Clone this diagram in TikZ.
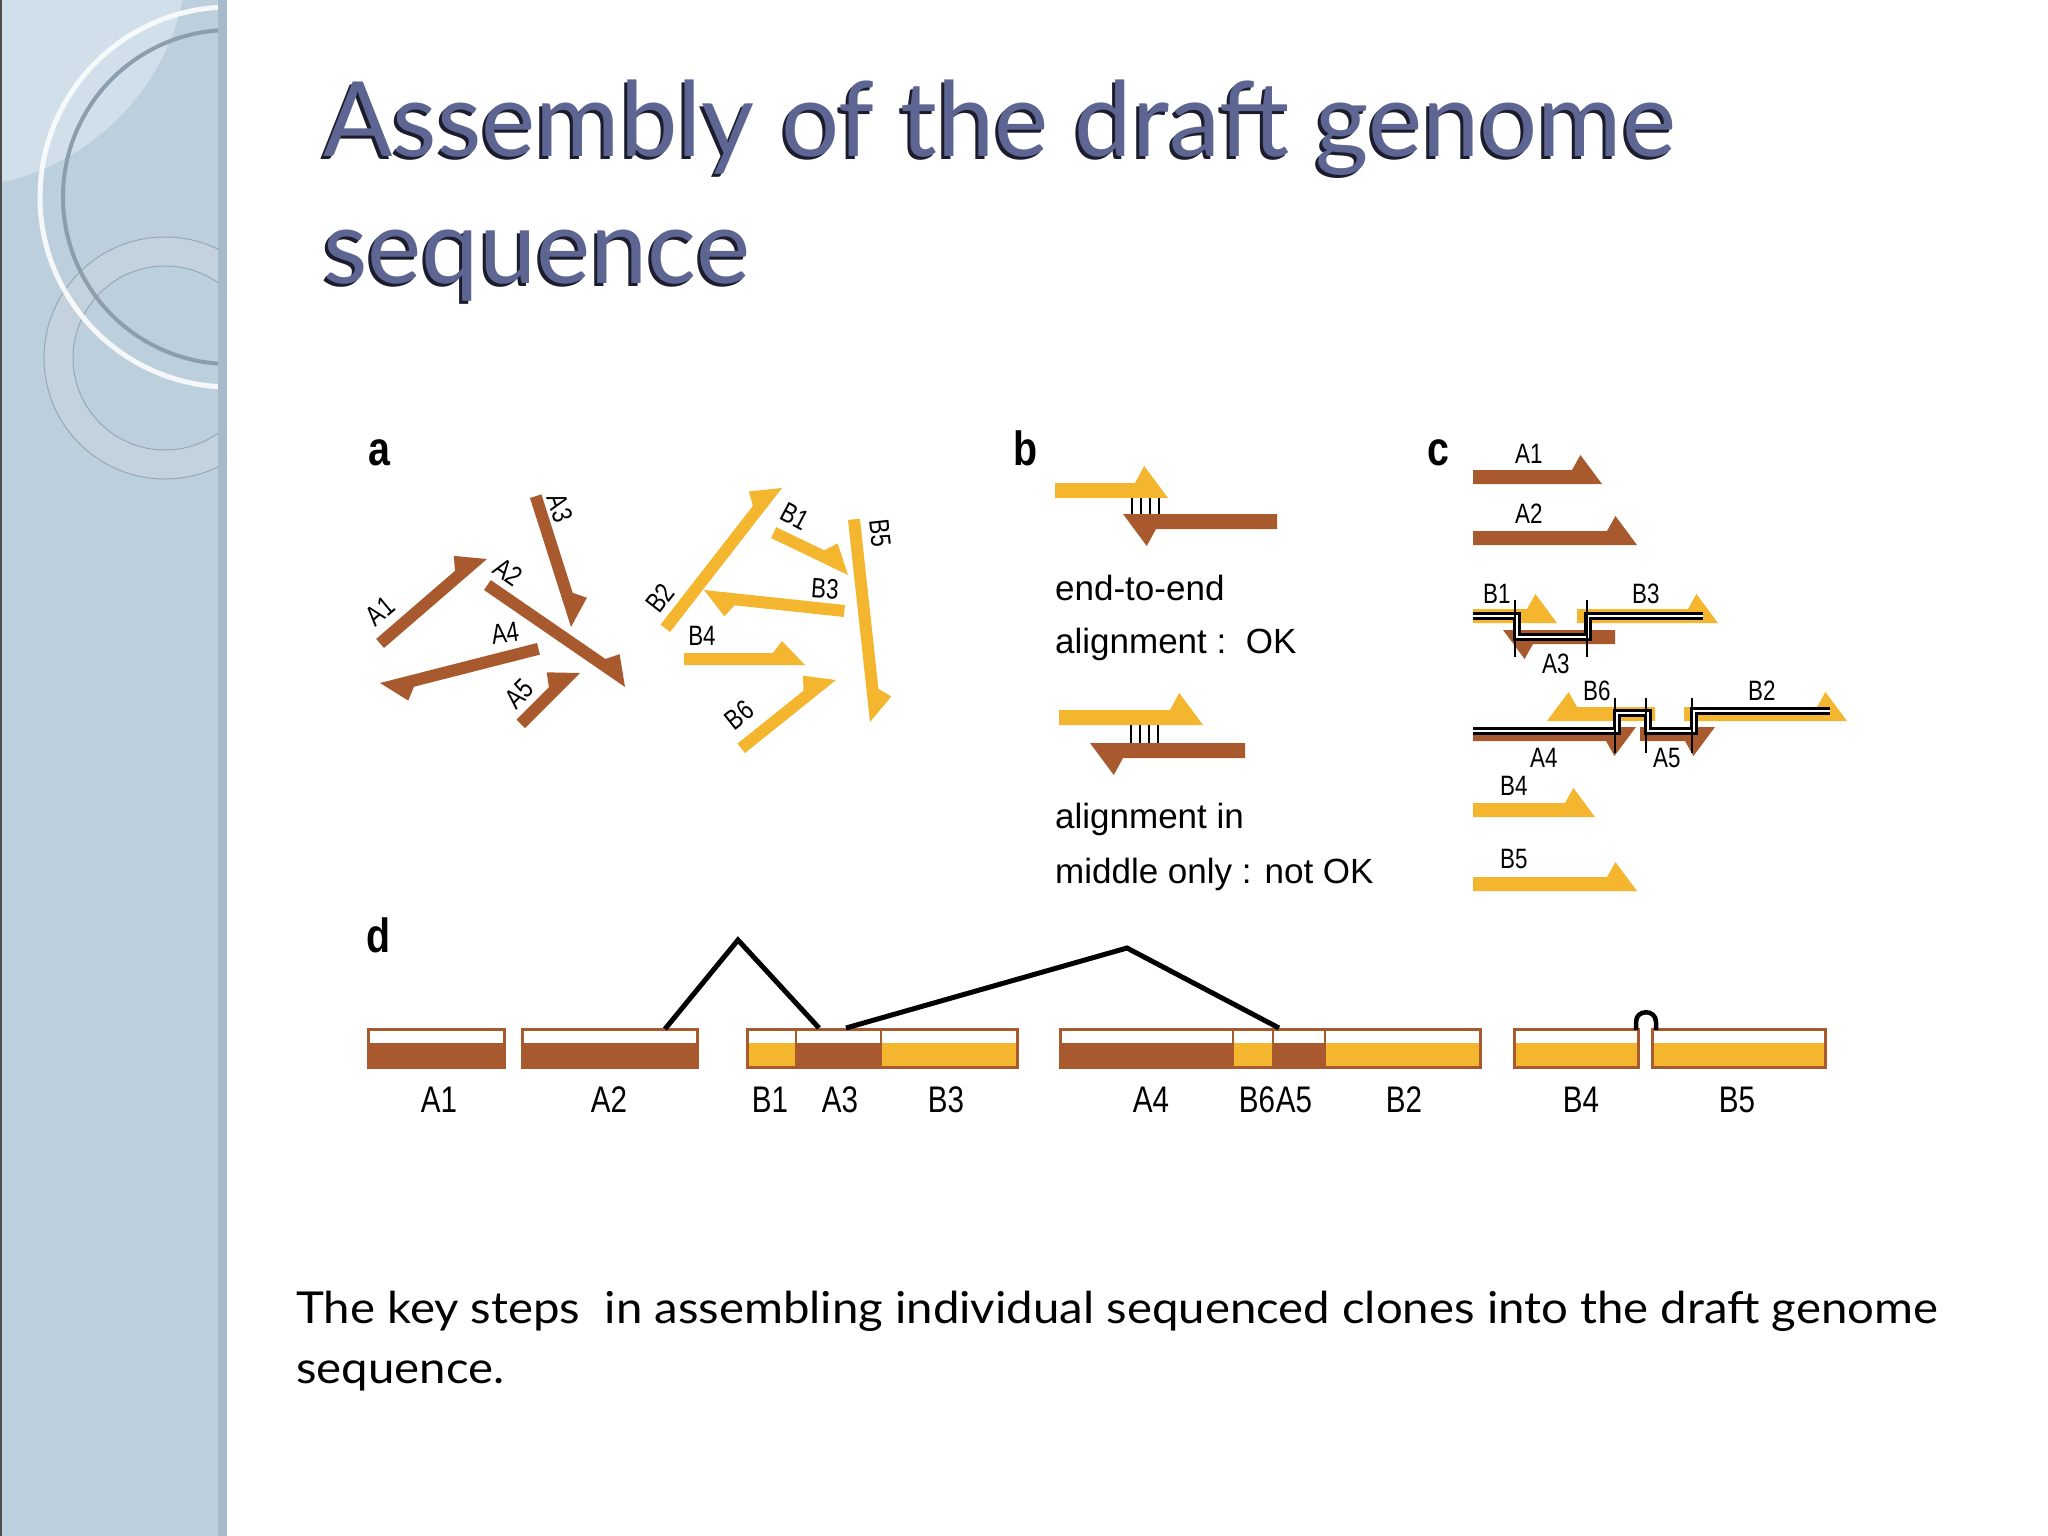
\documentclass[tikz,border=0pt]{standalone}
\usepackage{fontspec}
\usepackage{graphicx}
\setmainfont{Liberation Sans}
\newfontfamily\titlefont{Lato}
\newfontfamily\labfont[FakeStretch=0.8]{Liberation Sans}
\newfontfamily\panfont[FakeStretch=0.82]{Liberation Sans Bold}
\newfontfamily\txtfont{Liberation Sans}
\definecolor{brownc}{RGB}{168,89,46}
\definecolor{goldc}{RGB}{243,182,46}
\definecolor{titlec}{RGB}{93,101,146}
\definecolor{shadowc}{RGB}{28,28,44}
\definecolor{sideb}{RGB}{188,207,221}
\definecolor{sidel}{RGB}{208,223,233}
\definecolor{sides}{RGB}{166,186,201}
\definecolor{ringd}{RGB}{140,158,172}
\definecolor{ringf}{RGB}{200,212,222}
\definecolor{ringe}{RGB}{150,168,182}
\newsavebox\tbox
\newsavebox\cbox
\newlength\tlen
\newlength\clen
\newcommand\hhl{32}
\newcommand\hhb{12}
\newcommand\titletxt{Assembly of the draft genome}
\newcommand\captxt{The key steps\ \ in assembling individual sequenced clones into the draft genome}
% harpoon: color, x1,y1 (tail on tip edge), x2,y2 (tip), side (1=left,-1=right), thickness
\newcommand\harp[7]{%
 \pgfmathsetmacro\hdx{#4-(#2)}%
 \pgfmathsetmacro\hdy{#5-(#3)}%
 \pgfmathsetmacro\hL{veclen(\hdx,\hdy)}%
 \pgfmathsetmacro\hA{atan2(-\hdy,\hdx)}%
 \pgfmathsetmacro\hm{-(#6)}%
 \fill[#1,shift={(#2,#3)},rotate=\hA] (0,0) -- (\hL,0) -- ({\hL-0.72*\hhl},{\hm*(#7+\hhb)}) -- ({\hL-\hhl},{\hm*#7}) -- (0,{\hm*#7}) -- cycle;}
\tikzset{
 lab/.style={inner sep=0pt, font=\labfont\fontsize{28}{30}\selectfont},
 clab/.style={inner sep=0pt, anchor=base west, font=\labfont\fontsize{28}{30}\selectfont},
 dlab/.style={inner sep=0pt, anchor=base, font=\labfont\fontsize{37}{40}\selectfont},
 plet/.style={inner sep=0pt, anchor=base west, font=\panfont\fontsize{48}{50}\selectfont},
 btxt/.style={inner sep=0pt, anchor=base west, font=\txtfont\fontsize{35}{40}\selectfont},
 tickl/.style={black, line width=2pt},
 cons/.style={line width=2.8pt, double=white, double distance=2.6pt, line join=miter},
 dline/.style={black, line width=5pt, line join=miter},
 dbox/.style={draw=brownc, line width=3pt},
 divl/.style={brownc, line width=2pt}
}
\begin{document}
\sbox\tbox{\titlefont\fontsize{104}{120}\selectfont \titletxt}%
\setlength\tlen{\wd\tbox}%
\pgfmathsetmacro\tsx{1353/\tlen}%
\sbox\cbox{\titlefont\fontsize{44}{50}\selectfont \captxt}%
\setlength\clen{\wd\cbox}%
\pgfmathsetmacro\csx{1642/\clen}%
\begin{tikzpicture}[x=1pt,y=-1pt]
\useasboundingbox (0,0) rectangle (2048,1536);
\fill[white] (0,0) rectangle (2048,1536);
% ---------- sidebar ----------
\begin{scope}
\clip (0,0) rectangle (227,1536);
\fill[sideb] (0,0) rectangle (227,1536);
\fill[sidel] (-50,-50) circle[radius=238];
\fill[ringf, opacity=.6, even odd rule] (165,358) circle[radius=121] (165,358) circle[radius=92];
\draw[ringe, line width=1pt] (165,358) circle[radius=121] (165,358) circle[radius=92];
\draw[white, opacity=.85, line width=5pt] (230,197) circle[radius=190];
\draw[ringd, line width=4pt] (230,197) circle[radius=167];
\fill[sides] (218,0) rectangle (227,1536);
\end{scope}
\draw[black!70, line width=2pt] (1,0) -- (1,1536);
% ---------- title ----------
\node[anchor=base west, inner sep=0pt, text=shadowc] (tsh1) at (320,160) {\scalebox{\tsx}[1]{\titlefont\fontsize{104}{120}\selectfont \titletxt}};
\node[anchor=base west, inner sep=0pt, text=titlec] (title1) at (323,157) {\scalebox{\tsx}[1]{\titlefont\fontsize{104}{120}\selectfont \titletxt}};
\node[anchor=base west, inner sep=0pt, text=shadowc] (tsh2) at (320,286) {\scalebox{\tsx}[1]{\titlefont\fontsize{104}{120}\selectfont sequence}};
\node[anchor=base west, inner sep=0pt, text=titlec] (title2) at (323,283) {\scalebox{\tsx}[1]{\titlefont\fontsize{104}{120}\selectfont sequence}};
% ---------- caption ----------
\node[anchor=base west, inner sep=0pt] (cap1) at (296,1323) {\scalebox{\csx}[1]{\titlefont\fontsize{44}{50}\selectfont \captxt}};
\node[anchor=base west, inner sep=0pt] (cap2) at (296,1383) {\scalebox{\csx}[1]{\titlefont\fontsize{44}{50}\selectfont sequence.}};
% ---------- panel letters ----------
\node[plet] (pa) at (368,465) {a};
\node[plet] (pb) at (1013,465) {b};
\node[plet] (pc) at (1427,465) {c};
\node[plet] (pd) at (366,952) {d};
% ---------- panel a ----------
\renewcommand\hhl{32}\renewcommand\hhb{12}
\harp{brownc}{384}{648}{487}{559}{1}{12}
\harp{brownc}{484}{590}{625}{687}{1}{12}
\harp{brownc}{530}{498}{571}{627}{1}{12}
\harp{brownc}{537}{643}{380}{683}{1}{12}
\harp{brownc}{525}{728}{580}{673}{1}{12}
\harp{goldc}{771}{538}{848}{575}{1}{12}
\harp{goldc}{670}{632}{782}{488}{1}{12}
\harp{goldc}{845}{605}{704}{590}{1}{12}
\harp{goldc}{684}{665}{805}{665}{1}{12}
\harp{goldc}{848}{520}{870}{722}{1}{12}
\harp{goldc}{745}{753}{836}{680}{1}{12}
\node[lab, rotate=40] (la1) at (380,611) {A1};
\node[lab, rotate=-72] (la3) at (560,508) {A3};
\node[lab, rotate=-35] (la2) at (508,572) {A2};
\node[lab, rotate=8] (la4) at (505,633) {A4};
\node[lab, rotate=45] (la5) at (519,694) {A5};
\node[lab, rotate=-28] (lb1) at (795,516) {B1};
\node[lab, rotate=-84] (lb5) at (880,533) {B5};
\node[lab, rotate=52] (lb2) at (660,598) {B2};
\node[lab, rotate=-4] (lb3) at (825,589) {B3};
\node[lab] (lb4) at (702,636) {B4};
\node[lab, rotate=39] (lb6) at (739,715) {B6};
% ---------- panel b ----------
\renewcommand\hhl{33}\renewcommand\hhb{17}
\harp{goldc}{1055}{498}{1168}{498}{1}{15}
\harp{brownc}{1277}{514}{1123}{514}{1}{15}
\foreach \tx in {1132,1141,1150,1159}{\draw[tickl] (\tx,498) -- (\tx,514);}
\harp{goldc}{1059}{725}{1203}{725}{1}{15}
\harp{brownc}{1245}{743}{1090}{743}{1}{15}
\foreach \tx in {1131,1140,1149,1158}{\draw[tickl] (\tx,725) -- (\tx,743);}
\node[btxt] (bt1) at (1055,600) {end-to-end};
\node[btxt] (bt2) at (1055,653) {alignment :\ \ OK};
\node[btxt] (bt3) at (1055,828) {alignment in};
\node[btxt] (bt4) at (1055,883) {middle only : not OK};
% ---------- panel c ----------
\renewcommand\hhl{30}\renewcommand\hhb{15}
\harp{brownc}{1473}{484}{1602}{484}{1}{14}
\harp{brownc}{1473}{545}{1637}{545}{1}{14}
\harp{goldc}{1473}{623}{1557}{623}{1}{14}
\harp{goldc}{1577}{623}{1718}{623}{1}{14}
\harp{brownc}{1615}{630}{1503}{630}{1}{14}
\harp{goldc}{1655}{721}{1547}{721}{-1}{14}
\harp{goldc}{1684}{721}{1847}{721}{1}{14}
\harp{brownc}{1473}{727}{1636}{727}{-1}{14}
\harp{brownc}{1640}{727}{1715}{727}{-1}{14}
\harp{goldc}{1473}{817}{1595}{817}{1}{14}
\harp{goldc}{1473}{891}{1637}{891}{1}{14}
\draw[cons] (1473,616) -- (1517,616) -- (1517,637) -- (1588,637) -- (1588,616) -- (1703,616);
\draw[cons] (1473,731) -- (1617,731) -- (1617,713) -- (1648,713) -- (1648,731) -- (1694,731) -- (1694,711) -- (1830,711);
\foreach \tx in {1515,1587}{\draw[tickl] (\tx,600) -- (\tx,657);}
\foreach \tx in {1615,1646,1692}{\draw[tickl] (\tx,698) -- (\tx,753);}
\node[clab] (ca1) at (1515,463) {A1};
\node[clab] (ca2) at (1515,523) {A2};
\node[clab] (cb1) at (1483,603) {B1};
\node[clab] (cb3) at (1632,603) {B3};
\node[clab] (ca3) at (1542,673) {A3};
\node[clab] (cb6) at (1583,700) {B6};
\node[clab] (cb2) at (1748,700) {B2};
\node[clab] (ca4) at (1530,767) {A4};
\node[clab] (ca5) at (1653,767) {A5};
\node[clab] (cb4) at (1500,795) {B4};
\node[clab] (cb5) at (1500,868) {B5};
% ---------- panel d ----------
\fill[brownc] (368,1043) rectangle (504,1067);
\fill[brownc] (522,1043) rectangle (697,1067);
\fill[goldc] (747,1043) rectangle (796,1067);
\fill[brownc] (796,1043) rectangle (881,1067);
\fill[goldc] (881,1043) rectangle (1017,1067);
\fill[brownc] (1060,1043) rectangle (1233,1067);
\fill[goldc] (1233,1043) rectangle (1273,1067);
\fill[brownc] (1273,1043) rectangle (1325,1067);
\fill[goldc] (1325,1043) rectangle (1480,1067);
\fill[goldc] (1514,1043) rectangle (1638,1067);
\fill[goldc] (1652,1043) rectangle (1825,1067);
\draw[dbox] (368,1029) rectangle (504,1067);
\draw[dbox] (522,1029) rectangle (697,1067);
\draw[dbox] (747,1029) rectangle (1017,1067);
\draw[dbox] (1060,1029) rectangle (1480,1067);
\draw[dbox] (1514,1029) rectangle (1638,1067);
\draw[dbox] (1652,1029) rectangle (1825,1067);
\foreach \tx in {796,881,1233,1273,1325}{\draw[divl] (\tx,1029) -- (\tx,1067);}
\draw[dline] (665,1029) -- (738,940) -- (819,1028);
\draw[dline] (846,1028) -- (1127,948) -- (1279,1028);
\draw[black, line width=4.5pt] (1636,1030) -- (1636,1022) .. controls (1636,1009) and (1656,1009) .. (1656,1022) -- (1656,1030);
\node[dlab] (da1) at (439,1112) {A1};
\node[dlab] (da2) at (609,1112) {A2};
\node[dlab] (db1) at (770,1112) {B1};
\node[dlab] (da3) at (840,1112) {A3};
\node[dlab] (db3) at (946,1112) {B3};
\node[dlab] (da4) at (1151,1112) {A4};
\node[dlab] (db6) at (1257,1112) {B6};
\node[dlab] (da5) at (1294,1112) {A5};
\node[dlab] (db2) at (1404,1112) {B2};
\node[dlab] (db4) at (1581,1112) {B4};
\node[dlab] (db5) at (1737,1112) {B5};
\end{tikzpicture}
\end{document}
